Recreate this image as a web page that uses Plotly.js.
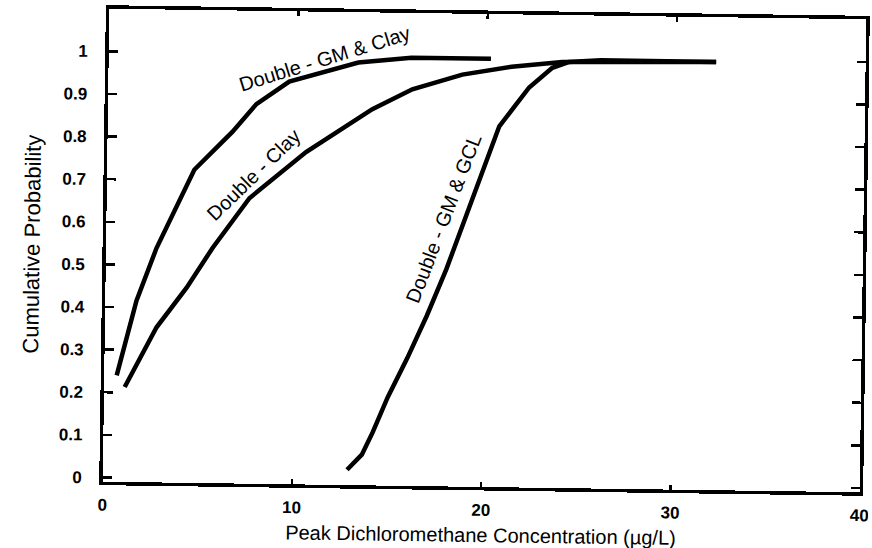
<!DOCTYPE html>
<html><head><meta charset="utf-8">
<script src="https://cdn.plot.ly/plotly-3.0.1.min.js"></script>
<style>html,body{margin:0;padding:0;background:#fff;overflow:hidden}#chart{width:872px;height:548px;transform:rotate(0.8deg);transform-origin:485px 250px}</style>
</head><body><div id="chart"></div><script>
// Series
const gmClayX = [0.66, 1.65, 2.67, 4.61, 6.59, 7.84, 9.56, 13.2, 16.0, 20.2];
const gmClayY = [0.24, 0.416, 0.54, 0.725, 0.815, 0.881, 0.935, 0.982, 0.995, 0.995];

const clayX = [1.09, 2.73, 4.29, 5.63, 7.54, 10.5, 13.97, 16.07, 18.7, 21.3, 23.97, 32.1];
const clayY = [0.213, 0.354, 0.448, 0.542, 0.66, 0.77, 0.873, 0.921, 0.957, 0.977, 0.99, 0.995];

const gmGclX = [12.9, 13.67, 14.23, 14.99, 16.0, 17.0, 18.0, 19.33, 20.69, 22.24, 23.45, 24.3, 26.0, 32.1];
const gmGclY = [0.026, 0.062, 0.115, 0.197, 0.29, 0.39, 0.5, 0.666, 0.837, 0.929, 0.976, 0.99, 0.995, 0.995];

const xTicks = [0, 10, 20, 30, 40];
const yTicks = [0, 0.1, 0.2, 0.3, 0.4, 0.5, 0.6, 0.7, 0.8, 0.9, 1];
const yTickText = ['0', '0.1', '0.2', '0.3', '0.4', '0.5', '0.6', '0.7', '0.8', '0.9', '1'];

const seriesNames = ['Double - GM & Clay', 'Double - Clay', 'Double - GM & GCL'];
const labelX = [11.4, 7.75, 17.8];
const labelY = [0.99, 0.715, 0.62];
const labelAngle = [-18, -45, -70];

const FONT = 'Arial, "Liberation Sans", Helvetica, sans-serif';
const line = {color: '#000', width: 4.5};

const traces = [
  {x: gmClayX, y: gmClayY, name: seriesNames[0], mode: 'lines', line: line},
  {x: clayX, y: clayY, name: seriesNames[1], mode: 'lines', line: line},
  {x: gmGclX, y: gmGclY, name: seriesNames[2], mode: 'lines', line: line}
];

const annotations = seriesNames.map((t, i) => ({
  x: labelX[i], y: labelY[i], xref: 'x', yref: 'y', text: t, showarrow: false,
  textangle: labelAngle[i], font: {family: FONT, size: 20, color: '#000'}
}));

const axisCommon = {
  showline: true, linewidth: 3.5, linecolor: '#000', mirror: 'ticks',
  ticks: 'inside', tickcolor: '#000', tickwidth: 2.5,
  showgrid: false, zeroline: false, ticklabeloverflow: 'allow',
  tickfont: {family: FONT, size: 17, color: '#000', weight: 'bold'}
};

const layout = {
  width: 872, height: 548,
  margin: {l: 106, r: 9, t: 14, b: 61},
  paper_bgcolor: '#fff', plot_bgcolor: '#fff',
  showlegend: false,
  xaxis: Object.assign({}, axisCommon, {
    range: [0, 40], tickvals: xTicks, ticklen: 5, ticklabelstandoff: 5,
    title: {text: 'Peak Dichloromethane Concentration (µg/L)', font: {family: FONT, size: 20, color: '#000'}, standoff: 10}
  }),
  yaxis: Object.assign({}, axisCommon, {
    range: [-0.01, 1.1], tickvals: yTicks, ticktext: yTickText, ticklen: 9, ticklabelstandoff: 14,
    title: {text: 'Cumulative Probability', font: {family: FONT, size: 22, color: '#000'}, standoff: 16}
  }),
  annotations: annotations
};

Plotly.newPlot('chart', traces, layout, {displayModeBar: false, staticPlot: true});
</script></body></html>
